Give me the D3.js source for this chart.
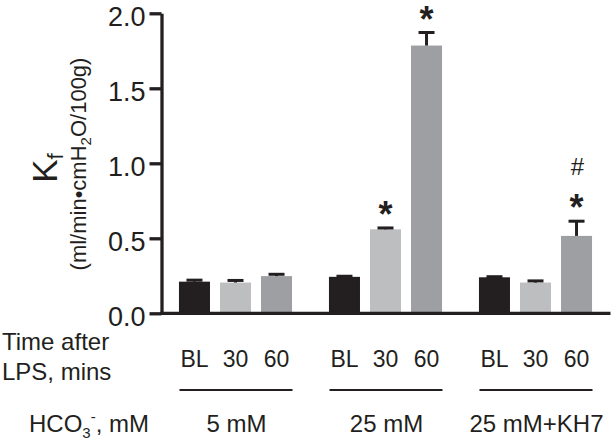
<!DOCTYPE html>
<html>
<head>
<meta charset="utf-8">
<script src="https://cdn.jsdelivr.net/npm/d3@7"></script>
<style>
  html, body { margin: 0; padding: 0; background: #fff; }
  svg { display: block; }
  text { font-family: "Liberation Sans", Arial, Helvetica, sans-serif; fill: #231f20; }
</style>
</head>
<body>
<svg id="chart" width="616" height="441"></svg>
<script>
// ---- data ----
const groups = ["5 mM", "25 mM", "25 mM+KH7"];
const times = ["BL", "30", "60"];
const mean5mM = [0.211, 0.205, 0.248];
const mean25mM = [0.243, 0.560, 1.785];
const mean25mMKH7 = [0.240, 0.205, 0.516];
const sem5mM = [0.010, 0.014, 0.012];
const sem25mM = [0.004, 0.009, 0.087];
const sem25mMKH7 = [0.004, 0.011, 0.098];
const yTicks = [0.0, 0.5, 1.0, 1.5, 2.0];
const starGroups = ["25 mM", "25 mM", "25 mM+KH7"];
const starTimes = ["30", "60", "60"];
const hashGroups = ["25 mM+KH7"];
const hashTimes = ["60"];
const barColors = ["#231f20", "#bcbec0", "#9d9fa2"];

const means = [mean5mM, mean25mM, mean25mMKH7];
const sems = [sem5mM, sem25mM, sem25mMKH7];
const rows = [];
groups.forEach((g, gi) => times.forEach((t, ti) => rows.push({
  group: g, time: t, ti, mean: means[gi][ti], sem: sems[gi][ti]
})));
const findRow = (g, t) => rows.find(r => r.group === g && r.time === t);

// ---- scales ----
const svg = d3.select("#chart");
const ink = "#231f20";
const y = d3.scaleLinear().domain([0, 2]).range([313.3, 13.3]);
const xGroup = d3.scaleBand().domain(groups).range([160.5, 610.5]).padding(0);
const xTime = d3.scaleBand().domain(times).range([0, xGroup.bandwidth()])
  .paddingInner(0.244).paddingOuter(0.45);
const color = d3.scaleOrdinal().domain(times).range(barColors);
const barX = r => xGroup(r.group) + xTime(r.time);
const barC = r => barX(r) + xTime.bandwidth() / 2;

// ---- bars ----
svg.append("g").selectAll("rect").data(rows).join("rect")
  .attr("x", barX)
  .attr("y", r => y(r.mean))
  .attr("width", xTime.bandwidth())
  .attr("height", r => y(0) - y(r.mean))
  .attr("fill", r => color(r.time));

// ---- error bars (upper only) ----
const eb = svg.append("g").attr("stroke", ink).attr("stroke-width", 3);
eb.selectAll("line.stem").data(rows).join("line").attr("class", "stem")
  .attr("x1", barC).attr("x2", barC)
  .attr("y1", r => y(r.mean)).attr("y2", r => y(r.mean + r.sem));
eb.selectAll("line.cap").data(rows).join("line").attr("class", "cap")
  .attr("x1", r => barC(r) - 8).attr("x2", r => barC(r) + 8)
  .attr("y1", r => y(r.mean + r.sem)).attr("y2", r => y(r.mean + r.sem));

// ---- significance marks ----
starGroups.forEach((g, i) => {
  const r = findRow(g, starTimes[i]);
  svg.append("text")
    .attr("x", barC(r))
    .attr("y", y(r.mean + r.sem) - 1)
    .attr("text-anchor", "middle")
    .attr("font-size", 36).attr("font-weight", "bold")
    .text("*");
});
hashGroups.forEach((g, i) => {
  const r = findRow(g, hashTimes[i]);
  svg.append("text")
    .attr("x", barC(r) + 1)
    .attr("y", y(r.mean + r.sem) - 46)
    .attr("text-anchor", "middle")
    .attr("font-size", 24)
    .text("#");
});

// ---- y axis ----
const yAxis = svg.append("g").attr("transform", "translate(161.5,0)")
  .call(d3.axisLeft(y).tickValues(yTicks).tickFormat(d3.format(".1f"))
    .tickSize(12).tickSizeOuter(0).tickPadding(4));
yAxis.select(".domain").attr("stroke", ink).attr("stroke-width", 3.3);
yAxis.selectAll(".tick line").attr("stroke", ink).attr("stroke-width", 3.3);
yAxis.selectAll(".tick text")
  .attr("font-size", 27).attr("fill", ink).attr("dy", "0.45em")
  .style("font-family", '"Liberation Sans", Arial, Helvetica, sans-serif');

// ---- x axis baseline ----
svg.append("line")
  .attr("x1", 160).attr("x2", xGroup.range()[1])
  .attr("y1", y(0)).attr("y2", y(0))
  .attr("stroke", ink).attr("stroke-width", 3.3);

// ---- y axis title ----
const kt = svg.append("text")
  .attr("transform", "translate(57,168) rotate(-90)")
  .attr("text-anchor", "middle").attr("font-size", 35);
kt.append("tspan").text("K");
kt.append("tspan").attr("font-size", 22).attr("dy", 6).text("f");

const ut = svg.append("text")
  .attr("transform", "translate(86,164) rotate(-90)")
  .attr("text-anchor", "middle").attr("font-size", 22);
ut.append("tspan").text("(ml/min\u2022cmH");
ut.append("tspan").attr("font-size", 15).attr("dy", 5).text("2");
ut.append("tspan").attr("dy", -5).text("O/100g)");

// ---- bottom labels ----
svg.append("text").attr("x", 2).attr("y", 350).attr("font-size", 24).text("Time after");
svg.append("text").attr("x", 2).attr("y", 380).attr("font-size", 24).text("LPS, mins");

svg.append("g").selectAll("text").data(rows).join("text")
  .attr("x", barC).attr("y", 367)
  .attr("text-anchor", "middle").attr("font-size", 23)
  .text(r => r.time);

svg.append("g").selectAll("line").data(groups).join("line")
  .attr("x1", g => xGroup(g) + xGroup.bandwidth() / 2 - 56)
  .attr("x2", g => xGroup(g) + xGroup.bandwidth() / 2 + 57)
  .attr("y1", 390).attr("y2", 390)
  .attr("stroke", ink).attr("stroke-width", 1.8);

svg.append("g").selectAll("text").data(groups).join("text")
  .attr("x", g => xGroup(g) + xGroup.bandwidth() / 2 + 1)
  .attr("y", 432).attr("text-anchor", "middle").attr("font-size", 24)
  .text(g => g);

const ht = svg.append("text").attr("x", 29).attr("y", 432).attr("font-size", 24);
ht.append("tspan").text("HCO");
ht.append("tspan").attr("font-size", 15).attr("dy", 6).text("3");
ht.append("tspan").attr("font-size", 15).attr("dy", -16).text("-");
ht.append("tspan").attr("dy", 10).text(", mM");
</script>
</body>
</html>
